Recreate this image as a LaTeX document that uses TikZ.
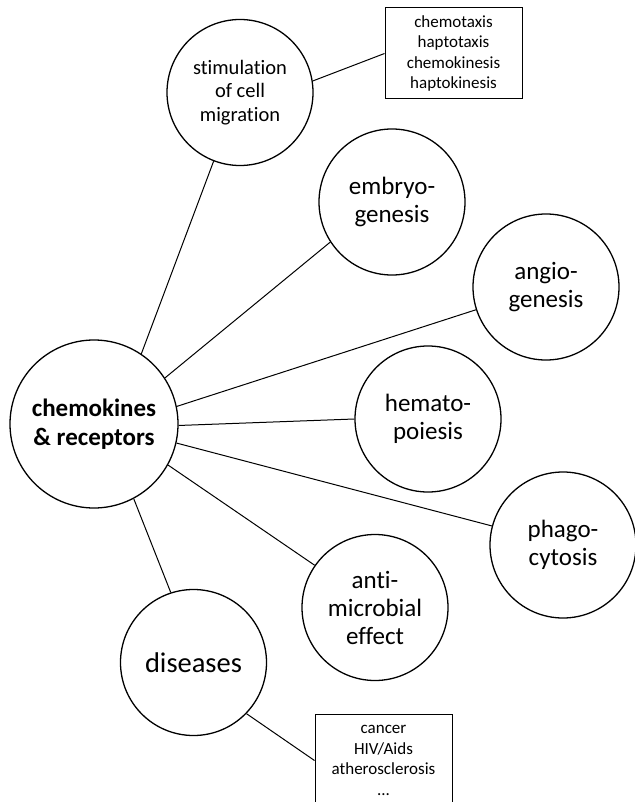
\documentclass[tikz,border=0pt]{standalone}
\usepackage{fontspec}
\setmainfont{Carlito}[Ligatures={NoCommon}]
\begin{document}
\begin{tikzpicture}[x=1pt,y=1pt,
  bubble/.style={circle,draw,line width=1.3pt,minimum size=146pt,inner sep=0pt,align=center,font=\fontsize{25}{28}\selectfont},
  hub/.style={circle,draw,line width=1.3pt,minimum size=168pt,inner sep=0pt,align=center,font=\bfseries\fontsize{25}{29}\selectfont},
  listbox/.style={draw,line width=1pt,minimum width=137pt,inner sep=0pt,align=center,font=\fontsize{17}{20.5}\selectfont},
  link/.style={line width=1pt}]
\useasboundingbox (0,0) rectangle (634,-802);
\node[hub] (core) at (94,-424) {chemokines\\\& receptors};
\node[bubble,font=\fontsize{20.5}{23.5}\selectfont] (stim) at (240,-92.5) {stimulation\\of cell\\migration};
\node[bubble] (embryo) at (392,-202) {embryo-\\genesis};
\node[bubble] (angio) at (546,-287) {angio-\\genesis};
\node[bubble] (hemato) at (428,-419) {hemato-\\poiesis};
\node[bubble] (phago) at (563,-545) {phago-\\cytosis};
\node[bubble] (anti) at (375,-607.5) {anti-\\microbial\\effect};
\node[bubble,font=\fontsize{28.5}{32}\selectfont] (dis) at (193.5,-662.5) {diseases};
\node[listbox,minimum height=91pt] (migbox) at (453.5,-53.5) {chemotaxis\\haptotaxis\\chemokinesis\\haptokinesis};
\node[listbox,minimum height=92pt,anchor=north] (disbox) at (383.5,-714) {cancer\\HIV/Aids\\atherosclerosis\\...};
\draw[link] (core.56) -- (stim.249);
\draw[link] (core.33.5) -- (embryo.213);
\draw[link] (core.12) -- (angio.198.7);
\draw[link] (core.-1) -- (hemato.180);
\draw[link] (core.-13.5) -- (phago.165);
\draw[link] (core.-29) -- (anti.145);
\draw[link] (core.-62.6) -- (dis.108.7);
\draw[link] (stim.9.7) -- (migbox.west);
\draw[link] (dis.-44.5) -- (disbox.west);
\end{tikzpicture}
\end{document}
